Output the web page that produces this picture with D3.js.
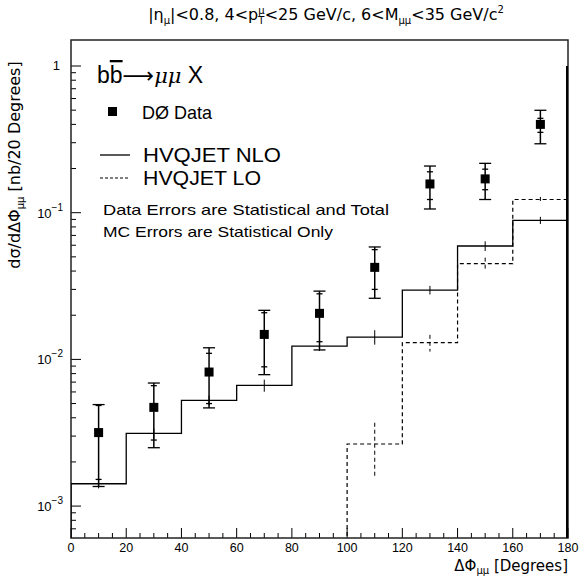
<!DOCTYPE html>
<html><head><meta charset="utf-8">
<script src="https://cdn.jsdelivr.net/npm/d3@7"></script>
<style>
html,body{margin:0;padding:0;background:#fff;}
svg text{fill:#000;}
</style></head>
<body><svg id="c" width="585" height="577" font-family="Liberation Sans, Arial, sans-serif"></svg>
<script>
// ---- data ----
const binEdges = [0,20,40,60,80,100,120,140,160,180];
const nloValues = [1.42e-3,3.13e-3,5.26e-3,6.65e-3,1.23e-2,1.42e-2,2.97e-2,5.93e-2,8.87e-2];
const nloErrors = [0.1e-3,0.25e-3,0.4e-3,0.63e-3,0.9e-3,1.6e-3,2.0e-3,4.5e-3,5.0e-3];
const loValues  = [null,null,null,null,null,2.65e-3,1.30e-2,4.49e-2,0.123];
const loErrors  = [null,null,null,null,null,1.05e-3,1.7e-3,4.5e-3,5e-3];
const dataX     = [10,30,50,70,90,110,130,150,170];
const dataY     = [3.17e-3,4.71e-3,8.2e-3,1.48e-2,2.06e-2,4.24e-2,0.157,0.170,0.400];
const statHigh  = [4.85e-3,6.62e-3,1.1e-2,2.08e-2,2.8e-2,5.6e-2,0.19,0.198,0.44];
const statLow   = [1.52e-3,2.82e-3,5.0e-3,8.9e-3,1.32e-2,3.0e-2,0.123,0.1435,0.353];
const totHigh   = [4.92e-3,6.90e-3,1.2e-2,2.16e-2,2.92e-2,5.84e-2,0.208,0.217,0.499];
const totLow    = [1.36e-3,2.50e-3,4.67e-3,7.87e-3,1.16e-2,2.61e-2,0.106,0.123,0.295];
const xTicks    = [0,20,40,60,80,100,120,140,160,180];
const yDecades  = [1e-3,1e-2,1e-1,1];
const yDecadeExp= [-3,-2,-1,0];

// ---- layout ----
const L=71,R=568,T=40,B=538;
const svg=d3.select("#c");
const x=d3.scaleLinear().domain([0,180]).range([L,R]);
const y=d3.scaleLog().domain([6.06e-4,1.504]).range([B,T]);

svg.append("defs").append("clipPath").attr("id","clip")
  .append("rect").attr("x",L).attr("y",T).attr("width",R-L).attr("height",B-T);

// x ticks (inward)
const xMinor=d3.range(0,181,5);
const gx=svg.append("g");
gx.selectAll("line").data(xMinor).join("line")
  .attr("x1",d=>x(d)).attr("x2",d=>x(d))
  .attr("y1",B).attr("y2",d=>d%20===0?B-10:B-5)
  .attr("stroke","#000").attr("stroke-width",1);
gx.selectAll("text").data(xTicks).join("text")
  .attr("x",d=>x(d)).attr("y",B+14).attr("text-anchor","middle")
  .attr("font-size",12.5).text(d=>d);

// y ticks
const yMinor=y.ticks();
const gy=svg.append("g");
gy.selectAll("line").data(yMinor).join("line")
  .attr("x1",L).attr("x2",d=>yDecades.some(v=>Math.abs(v-d)/v<1e-6)?L+10:L+5)
  .attr("y1",d=>y(d)).attr("y2",d=>y(d))
  .attr("stroke","#000").attr("stroke-width",1);
yDecades.forEach((v,i)=>{
  const e=yDecadeExp[i];
  if(e===0){
    gy.append("text").attr("x",L-11).attr("y",y(v)+4).attr("text-anchor","end").attr("font-size",13).text("1");
  } else {
    const t=gy.append("text").attr("x",L-8).attr("y",y(v)+5).attr("text-anchor","end").attr("font-size",13);
    t.append("tspan").text("10");
    t.append("tspan").attr("dy",-7).attr("font-size",10).text("\u2212"+(-e));
  }
});

// frame
svg.append("rect").attr("x",L).attr("y",T).attr("width",R-L).attr("height",B-T)
  .attr("fill","none").attr("stroke","#222").attr("stroke-width",1.5);

const plot=svg.append("g").attr("clip-path","url(#clip)");

// histograms
function histPath(vals){
  let p="";
  let started=false;
  vals.forEach((v,i)=>{
    if(v==null) return;
    const x0=x(binEdges[i]), x1=x(binEdges[i+1]);
    if(!started){ p+=`M${x0},${B+5}L${x0},${y(v)}`; started=true; }
    else p+=`L${x0},${y(v)}`;
    p+=`L${x1},${y(v)}`;
  });
  return p;
}
plot.append("path").attr("d",histPath(nloValues)).attr("fill","none")
  .attr("stroke","#000").attr("stroke-width",1.3);
plot.append("path").attr("d",histPath(loValues)).attr("fill","none")
  .attr("stroke","#000").attr("stroke-width",1.2).attr("stroke-dasharray","4,3");
// right closing line at 180
plot.append("line").attr("x1",x(180)-1).attr("x2",x(180)-1).attr("y1",y(1)).attr("y2",B)
  .attr("stroke","#000").attr("stroke-width",2);

// MC error bars
nloValues.forEach((v,i)=>{
  const cx=x((binEdges[i]+binEdges[i+1])/2);
  plot.append("line").attr("x1",cx).attr("x2",cx)
    .attr("y1",y(v+nloErrors[i])).attr("y2",y(v-nloErrors[i]))
    .attr("stroke","#000").attr("stroke-width",1);
});
loValues.forEach((v,i)=>{
  if(v==null) return;
  const cx=x((binEdges[i]+binEdges[i+1])/2);
  plot.append("line").attr("x1",cx).attr("x2",cx)
    .attr("y1",y(v+loErrors[i])).attr("y2",y(v-loErrors[i]))
    .attr("stroke","#000").attr("stroke-width",1).attr("stroke-dasharray","4,3");
});

// data points
dataX.forEach((d,i)=>{
  const cx=x(d);
  plot.append("line").attr("x1",cx).attr("x2",cx).attr("y1",y(totHigh[i])).attr("y2",y(totLow[i]))
    .attr("stroke","#000").attr("stroke-width",1.5);
  [totHigh[i],totLow[i]].forEach(v=>plot.append("line").attr("x1",cx-6).attr("x2",cx+6)
    .attr("y1",y(v)).attr("y2",y(v)).attr("stroke","#000").attr("stroke-width",1.3));
  [statHigh[i],statLow[i]].forEach(v=>plot.append("line").attr("x1",cx-3).attr("x2",cx+3)
    .attr("y1",y(v)).attr("y2",y(v)).attr("stroke","#000").attr("stroke-width",1.3));
  plot.append("rect").attr("x",cx-4.5).attr("y",y(dataY[i])-4.5).attr("width",9).attr("height",9).attr("fill","#000");
});

// legend
const lg=svg.append("g");
const t1=lg.append("text").attr("x",97).attr("y",83).attr("font-size",23);
t1.append("tspan").text("b");
t1.append("tspan").attr("text-decoration","overline").text("b");
t1.append("tspan").style("font-family","DejaVu Sans").attr("font-size",22).text("\u27F6");
t1.append("tspan").attr("font-style","italic").style("font-family","DejaVu Serif").attr("font-size",21).text("\u03BC\u03BC");
t1.append("tspan").text(" X");

lg.append("rect").attr("x",108).attr("y",107).attr("width",9).attr("height",9).attr("fill","#000");
lg.append("text").attr("x",142).attr("y",119).attr("font-size",19).attr("textLength",70).attr("lengthAdjust","spacingAndGlyphs").text("D\u00D8 Data");
lg.append("line").attr("x1",100).attr("x2",130).attr("y1",155).attr("y2",155).attr("stroke","#000").attr("stroke-width",1.3);
lg.append("text").attr("x",143).attr("y",162).attr("font-size",20).attr("textLength",138).attr("lengthAdjust","spacingAndGlyphs").text("HVQJET NLO");
lg.append("line").attr("x1",100).attr("x2",130).attr("y1",178).attr("y2",178).attr("stroke","#000").attr("stroke-width",1.2).attr("stroke-dasharray","3,2");
lg.append("text").attr("x",143).attr("y",185).attr("font-size",20).attr("textLength",118).attr("lengthAdjust","spacingAndGlyphs").text("HVQJET LO");
lg.append("text").attr("x",103).attr("y",215).attr("font-size",14.5).attr("textLength",286).attr("lengthAdjust","spacingAndGlyphs").text("Data Errors are Statistical and Total");
lg.append("text").attr("x",103).attr("y",237).attr("font-size",14.5).attr("textLength",230).attr("lengthAdjust","spacingAndGlyphs").text("MC Errors are Statistical Only");

// title
const tt=svg.append("text").attr("x",326).attr("y",20).attr("text-anchor","middle").attr("font-size",16).style("font-family","DejaVu Sans");
tt.append("tspan").text("|\u03B7");
tt.append("tspan").attr("dy",4).attr("font-size",10).text("\u03BC");
tt.append("tspan").attr("dy",-4).text("|<0.8, 4<p");
tt.append("tspan").attr("dy",4).attr("font-size",10).text("T");
tt.append("tspan").attr("dy",-10).attr("dx",-6).attr("font-size",10).text("\u03BC");
tt.append("tspan").attr("dy",6).text("<25 GeV/c, 6<M");
tt.append("tspan").attr("dy",4).attr("font-size",10).text("\u03BC\u03BC");
tt.append("tspan").attr("dy",-4).text("<35 GeV/c");
tt.append("tspan").attr("dy",-7).attr("font-size",10).text("2");

// y label
const yl=svg.append("text").attr("transform","translate(20,165) rotate(-90)").attr("text-anchor","middle").attr("font-size",16).style("font-family","DejaVu Sans");
yl.append("tspan").text("d\u03C3/d\u0394\u03A6");
yl.append("tspan").attr("dy",4).attr("font-size",10).text("\u03BC\u03BC");
yl.append("tspan").attr("dy",-4).text(" [nb/20 Degrees]");

// x label
const xl=svg.append("text").attr("x",R).attr("y",571).attr("text-anchor","end").attr("font-size",15).style("font-family","DejaVu Sans");
xl.append("tspan").text("\u0394\u03A6");
xl.append("tspan").attr("dy",3).attr("font-size",10).text("\u03BC\u03BC");
xl.append("tspan").attr("dy",-3).text(" [Degrees]");
</script></body></html>
